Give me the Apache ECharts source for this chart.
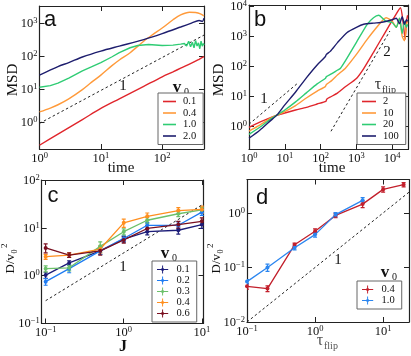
<!DOCTYPE html>
<html><head><meta charset="utf-8">
<script src="https://cdn.jsdelivr.net/npm/echarts@6/dist/echarts.min.js"></script>
<style>html,body{margin:0;padding:0;background:#fff}#c{width:411px;height:356px}</style>
</head><body><div id="c"></div>
<script>
// ---------- Panel a : MSD vs time for several v0 ----------
const aNames = ['0.1', '0.4', '1.0', '2.0'];
const aTime01 = [1, 2, 5, 10, 20, 50, 100, 150, 200, 300, 400, 480];
const aMSD01  = [0.195, 0.427, 1.17, 2.57, 5.0, 12.0, 23.4, 33.1, 42.7, 60.3, 79.4, 95.5];
const aTime04 = [1, 1.5, 2, 3, 5, 7, 10, 15, 20, 30, 50, 70, 100, 150, 200, 280, 350, 420, 480];
const aMSD04  = [2.0, 2.63, 3.31, 5.0, 9.55, 15.8, 26.3, 50.1, 75.9, 126, 282, 447, 708, 1259, 1778, 2138, 2089, 1905, 1660];
const aTime10 = [1, 1.5, 2, 3, 5, 7, 10, 15, 20, 30, 40, 60, 100, 150, 200, 230, 250, 270, 290, 310, 330, 350, 370, 390, 410, 430, 450, 470, 480];
const aMSD10  = [11.2, 12.6, 15.1, 21.4, 35.5, 46.8, 63.1, 93.3, 126, 178, 209, 224, 209, 214, 229, 240, 200, 282, 191, 263, 178, 295, 200, 251, 166, 282, 200, 240, 214];
const aTime20 = [1, 2, 3, 5, 10, 20, 50, 100, 200, 300, 400, 450, 480];
const aMSD20  = [26.3, 47.9, 63.1, 93.3, 141, 200, 316, 479, 759, 1000, 1202, 1122, 1413];
const aRefTime = [1, 480];
const aRefMSD  = [0.9, 432];

// ---------- Panel b : MSD vs time for several tau_flip ----------
const bNames = ['2', '10', '20', '100'];
const bTime2   = [1, 2, 4, 6, 10, 20, 40, 80, 140, 150, 200, 300, 500, 1000, 1600, 3000, 5000, 8000, 12000, 17000, 20000, 23000, 25000, 27000];
const bMSD2    = [0.95, 1.41, 2.0, 2.4, 2.82, 3.55, 4.37, 5.62, 6.92, 8.32, 10, 13.2, 21.4, 39.8, 85.1, 295, 832, 2138, 4786, 8913, 3162, 794, 3162, 5012];
const bTime10  = [1, 2, 4, 6, 10, 20, 40, 80, 135, 145, 200, 300, 500, 1000, 2000, 4000, 5800, 6800, 10000, 13000, 16000, 19000, 22000, 25000, 27000];
const bMSD10   = [0.71, 1.12, 1.91, 2.4, 3.16, 5.01, 8.91, 15.1, 21.4, 25.1, 33.1, 52.5, 89.1, 251, 794, 2239, 3715, 4169, 3162, 1995, 3981, 1000, 708, 2512, 3162];
const bTime20  = [1, 2, 4, 6, 10, 20, 40, 80, 135, 145, 200, 300, 355, 500, 1000, 2000, 3000, 4200, 6500, 10000, 13000, 16000, 19000, 22000, 25000, 27000];
const bMSD20   = [0.55, 0.95, 1.78, 2.4, 3.55, 6.61, 13.2, 26.3, 39.8, 45.7, 56.2, 75.9, 85.1, 158, 631, 2512, 4169, 5012, 3236, 2884, 1995, 3981, 1259, 3162, 1995, 2512];
const bTime100 = [1, 2, 4, 6, 10, 20, 40, 80, 135, 145, 186, 300, 550, 1000, 1600, 3000, 4700, 7000, 10000, 13000, 16000, 19000, 22000, 25000, 27000];
const bMSD100  = [0.41, 0.76, 1.58, 2.4, 5.25, 14.1, 41.7, 112, 209, 251, 316, 631, 1349, 1995, 2512, 2754, 2884, 3162, 3548, 3981, 2630, 4467, 2512, 3548, 3162];
const bRef1Time = [1, 24];
const bRef1MSD  = [1.2, 29];
const bRef2Time = [195, 8600];
const bRef2MSD  = [0.7, 1500];

// ---------- Panel c : D/v0^2 vs J ----------
const cNames = ['0.1', '0.2', '0.3', '0.4', '0.6'];
const cJ = [0.1, 0.2, 0.5, 1, 2, 5, 10];
const cD01 = [1.03, 1.85, 3.3, 5.8, 8.3, 8.9, 11.7];
const cE01 = [0.15, 0.2, 0.5, 0.8, 1.2, 1.5, 2.0];
const cD02 = [0.75, 1.4, 3.3, 6.0, 11.3, 11.3, 21.3];
const cE02 = [0.12, 0.25, 0.5, 0.8, 1.5, 2.0, 3.0];
const cD03 = [1.4, 1.46, 4.1, 8.3, 14.4, 19.7, 23.8];
const cE03 = [0.2, 0.2, 1.0, 1.2, 2.0, 2.5, 3.0];
const cD04 = [2.5, 2.7, 3.6, 12.7, 17.4, 23.0, 24.3];
const cE04 = [0.3, 0.3, 0.6, 2.5, 3.0, 3.5, 4.0];
const cD06 = [3.8, 2.7, 3.3, 5.6, 9.7, 11.7, 13.7];
const cE06 = [0.8, 0.3, 0.6, 0.8, 1.5, 2.0, 2.5];
const cRefJ = [0.1, 10];
const cRefD = [0.3, 30];

// ---------- Panel d : D/v0^2 vs tau_flip ----------
const dNames = ['0.4', '1.0'];
const dTau04 = [0.1, 0.2, 0.5, 1, 2, 5, 10, 20];
const dD04   = [0.045, 0.041, 0.26, 0.46, 0.9, 1.45, 2.7, 3.3];
const dE04   = [0.005, 0.005, 0.02, 0.05, 0.08, 0.2, 0.3, 0.3];
const dTau10 = [0.1, 0.2, 0.5, 1, 2, 5];
const dD10   = [0.055, 0.10, 0.23, 0.40, 0.93, 1.7];
const dE10   = [0.005, 0.015, 0.02, 0.04, 0.08, 0.2];
const dRefTau = [0.1, 24];
const dRefD   = [0.01, 2.4];

// ---------- styling ----------
const SERIF = '"Liberation Serif", "DejaVu Serif", serif';
const SANS = '"Liberation Sans", Arial, sans-serif';
const C = {red:'#e0262c', orange:'#ff9a3a', green:'#2fcc74', navy:'#1e1e6e',
           cNavy:'#1c1c78', cBlue:'#1f7cf2', cGreen:'#6cc06a', cOrange:'#ff8f1f', cDark:'#7a1020',
           dRed:'#c21f2b', dBlue:'#2b86f0'};

const grids = [
  {left: 39.5, top: 6, width: 164.5, height: 143},
  {left: 249, top: 5, width: 159.5, height: 144},
  {left: 41.7, top: 180, width: 161.8, height: 143.5},
  {left: 247, top: 179.5, width: 162, height: 142.5}
].map(g => Object.assign({outerBoundsMode: 'none', containLabel: false}, g));

function powLabel(v) {
  const e = Math.log10(v), r = Math.round(e);
  if (Math.abs(e - r) > 1e-6) return '';
  return '{b|10}{s|' + (r < 0 ? '\u2212' + (-r) : r) + '}';
}
const rich = {
  b: {fontFamily: SERIF, fontSize: 12.5, color: '#111', lineHeight: 14, verticalAlign: 'bottom'},
  s: {fontFamily: SERIF, fontSize: 8.5, color: '#111', lineHeight: 14, verticalAlign: 'top'}
};
function logAxis(gi, pos, min, max, labels) {
  return {
    type: 'log', logBase: 10, gridIndex: gi, position: pos, min: min, max: max,
    axisLine: {show: true, onZero: false, lineStyle: {color: '#222', width: 1.2}},
    axisTick: {show: true, inside: true, length: 5, lineStyle: {color: '#222', width: 1}},
    minorTick: {show: false}, splitLine: {show: false}, minorSplitLine: {show: false},
    axisLabel: {show: labels, formatter: powLabel, rich: rich, margin: 2, showMinLabel: true, showMaxLabel: true}
  };
}
const ranges = [
  {x: [1, 480], y: [0.15, 3300]},
  {x: [1, 28500], y: [0.18, 11000]},
  {x: [0.089, 10.5], y: [0.1, 100]},
  {x: [0.1, 24], y: [0.01, 4.1]}
];
const xAxes = [], yAxes = [];
ranges.forEach((r, g) => {
  xAxes.push(logAxis(g, 'bottom', r.x[0], r.x[1], true));
  xAxes.push(logAxis(g, 'top', r.x[0], r.x[1], false));
  yAxes.push(logAxis(g, 'left', r.y[0], r.y[1], true));
  yAxes.push(logAxis(g, 'right', r.y[0], r.y[1], false));
});

function zip(xs, ys) { return xs.map((x, i) => [x, ys[i]]); }
function line(name, g, xs, ys, color, extra) {
  return Object.assign({
    type: 'line', name: name, xAxisIndex: 2 * g, yAxisIndex: 2 * g,
    data: zip(xs, ys), showSymbol: false, symbol: 'none',
    lineStyle: {color: color, width: 1.4}, itemStyle: {color: color},
    animation: false, silent: true
  }, extra || {});
}
function refLine(g, xs, ys) {
  return {type: 'line', xAxisIndex: 2 * g, yAxisIndex: 2 * g, data: zip(xs, ys), symbol: 'none',
    lineStyle: {color: '#222', width: 1, type: [2.5, 2.5]}, animation: false, silent: true};
}
function errSeries(g, xs, ys, es, color) {
  return {
    type: 'custom', xAxisIndex: 2 * g, yAxisIndex: 2 * g, animation: false, silent: true, clip: true,
    data: xs.map((x, i) => [x, ys[i] - es[i], ys[i] + es[i]]),
    encode: {x: 0, y: [1, 2]},
    renderItem: function (params, api) {
      const x = api.value(0), lo = api.value(1), hi = api.value(2);
      const p1 = api.coord([x, lo]), p2 = api.coord([x, hi]);
      const st = {stroke: color, lineWidth: 1.2};
      return {type: 'group', children: [
        {type: 'line', shape: {x1: p1[0], y1: p1[1], x2: p2[0], y2: p2[1]}, style: st},
        {type: 'line', shape: {x1: p1[0] - 2, y1: p1[1], x2: p1[0] + 2, y2: p1[1]}, style: st},
        {type: 'line', shape: {x1: p2[0] - 2, y1: p2[1], x2: p2[0] + 2, y2: p2[1]}, style: st}
      ]};
    }
  };
}
function markLine(name, g, xs, ys, color) {
  return line(name, g, xs, ys, color, {showSymbol: true, symbol: 'circle', symbolSize: 4, lineStyle: {color: color, width: 1.3}});
}

const series = [
  refLine(0, aRefTime, aRefMSD),
  line('a 0.1', 0, aTime01, aMSD01, C.red, {smooth: 0.3}),
  line('a 0.4', 0, aTime04, aMSD04, C.orange, {smooth: 0.3}),
  line('a 1.0', 0, aTime10, aMSD10, C.green),
  line('a 2.0', 0, aTime20, aMSD20, C.navy, {smooth: 0.3}),

  refLine(1, bRef1Time, bRef1MSD),
  refLine(1, bRef2Time, bRef2MSD),
  line('b 2', 1, bTime2, bMSD2, C.red, {smooth: 0.2}),
  line('b 10', 1, bTime10, bMSD10, C.orange, {smooth: 0.2}),
  line('b 20', 1, bTime20, bMSD20, C.green, {smooth: 0.2}),
  line('b 100', 1, bTime100, bMSD100, C.navy, {smooth: 0.2}),

  refLine(2, cRefJ, cRefD),
  errSeries(2, cJ, cD01, cE01, C.cNavy),
  errSeries(2, cJ, cD02, cE02, C.cBlue),
  errSeries(2, cJ, cD03, cE03, C.cGreen),
  errSeries(2, cJ, cD04, cE04, C.cOrange),
  errSeries(2, cJ, cD06, cE06, C.cDark),
  markLine('c 0.1', 2, cJ, cD01, C.cNavy),
  markLine('c 0.2', 2, cJ, cD02, C.cBlue),
  markLine('c 0.3', 2, cJ, cD03, C.cGreen),
  markLine('c 0.4', 2, cJ, cD04, C.cOrange),
  markLine('c 0.6', 2, cJ, cD06, C.cDark),

  refLine(3, dRefTau, dRefD),
  errSeries(3, dTau04, dD04, dE04, C.dRed),
  errSeries(3, dTau10, dD10, dE10, C.dBlue),
  markLine('d 0.4', 3, dTau04, dD04, C.dRed),
  markLine('d 1.0', 3, dTau10, dD10, C.dBlue)
];

const errIcon = 'path://M0,4.5h14v1h-14z M6.4,0h1.2v10h-1.2z M5.5,3.5h3v3h-3z';
function legend(prefix, names, left, top, icon, iw, ih, lh, gap) {
  return {
    data: names.map(n => prefix + ' ' + n), orient: 'vertical', left: left, top: top,
    icon: icon, itemWidth: iw, itemHeight: ih, itemGap: gap,
    padding: [3, 7, 3, 5], borderColor: '#666', borderWidth: 1, backgroundColor: '#fff',
    formatter: n => n.split(' ')[1], selectedMode: false,
    textStyle: {fontFamily: SERIF, fontSize: 10.5, lineHeight: lh, color: '#111', padding: [0, 0, 0, 2]}
  };
}
const legends = [
  legend('a', aNames, 158, 93, 'rect', 13, 1.6, 10.5, 0.5),
  legend('b', bNames, 357, 93, 'rect', 14, 1.6, 10, 0.5),
  legend('c', cNames, 152, 261, errIcon, 14, 8, 9.6, 0),
  legend('d', dNames, 357, 281, errIcon, 14, 8, 9.5, 0)
];

function txt(x, y, text, font, opts) {
  return {type: 'text', x: x, y: y, silent: true,
    style: Object.assign({text: text, font: font, fill: '#111', align: 'center', verticalAlign: 'middle'}, opts || {})};
}
// v0 : bold v with subscript 0
function v0(x, y) {
  return {type: 'group', x: x, y: y, silent: true, children: [
    txt(0, 0, 'v', 'bold 17px ' + SERIF),
    txt(7, 4, '0', '10px ' + SERIF, {align: 'left'})
  ]};
}
// tau_flip : tau with subscript 'flip'
function tauFlip(x, y, col) {
  return {type: 'group', x: x, y: y, silent: true, children: [
    txt(0, 0, '\u03c4', '16px ' + SERIF, {fill: col}),
    txt(4, 5, 'flip', '10px ' + SERIF, {align: 'left', fill: col})
  ]};
}
// D/v0^2 rotated
function dv(x, y) {
  return {type: 'group', x: x, y: y, rotation: Math.PI / 2, silent: true, children: [
    txt(3, 0, 'D/v', '13px ' + SERIF, {align: 'right'}),
    txt(3.5, 3.5, '0', '8px ' + SERIF, {align: 'left'}),
    txt(9, -6, '2', '9px ' + SERIF, {align: 'left'})
  ]};
}

const graphics = [
  txt(50, 20, 'a', '22px ' + SANS),
  txt(260, 20, 'b', '22px ' + SANS),
  txt(53, 196, 'c', '22px ' + SANS),
  txt(262, 198, 'd', '22px ' + SANS),
  Object.assign(txt(13, 80, 'MSD', '15px ' + SERIF), {rotation: Math.PI / 2}),
  Object.assign(txt(219, 80, 'MSD', '15px ' + SERIF), {rotation: Math.PI / 2}),
  txt(121, 168, 'time', '15px ' + SERIF),
  txt(332, 168, 'time', '15px ' + SERIF),
  txt(123, 347, 'J', 'bold 16px ' + SERIF),
  tauFlip(320, 341, '#555'),
  dv(11, 257),
  dv(217, 257),
  txt(123, 86, '1', '15px ' + SERIF),
  txt(264, 99, '1', '15px ' + SERIF),
  txt(387, 52, '2', '15px ' + SERIF),
  txt(123, 267, '1', '15px ' + SERIF),
  txt(338, 260, '1', '15px ' + SERIF),
  v0(177, 88),
  tauFlip(378, 85, '#333'),
  v0(165, 254),
  v0(385, 273)
];

const chart = echarts.init(document.getElementById('c'), null, {renderer: 'canvas'});
chart.setOption({
  animation: false,
  backgroundColor: '#fff',
  grid: grids,
  xAxis: xAxes,
  yAxis: yAxes,
  legend: legends,
  series: series,
  graphic: graphics
});
</script></body></html>
